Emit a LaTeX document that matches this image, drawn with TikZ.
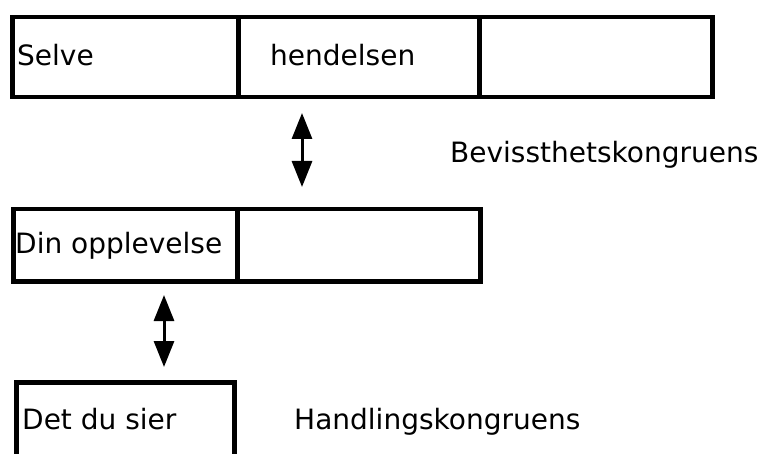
\documentclass[tikz,border=0pt]{standalone}
\usepackage{fontspec}
\setmainfont{DejaVu Sans}
\usetikzlibrary{arrows.meta}
\begin{document}
\begin{tikzpicture}[x=1pt,y=-1pt,
  cell/.style={draw=black,line width=4.5pt,rectangle,inner sep=0pt,anchor=north west},
  lbl/.style={font=\fontsize{28}{31}\selectfont,inner sep=0pt,anchor=base west},
  tip/.tip={Triangle[width=20pt,length=26pt]},
  twoway/.style={line width=3pt,tip-tip}]
\useasboundingbox (0,0) rectangle (762,454);
\clip (0,0) rectangle (762,454);

% top row: the event itself
\node[cell,minimum width=226pt,minimum height=80pt] (s1) at (10,15) {};
\node[cell,minimum width=241pt,minimum height=80pt] (s2) at (236,15) {};
\node[cell,minimum width=233pt,minimum height=80pt] (s3) at (477,15) {};
\node[lbl] (selve) at (17,66) {Selve};
\node[lbl] (hend) at (270,66) {hendelsen};

% middle row: your experience
\node[cell,minimum width=224pt,minimum height=72pt] (o1) at (11,207) {};
\node[cell,minimum width=243pt,minimum height=72pt] (o2) at (235,207) {};
\node[lbl] (din) at (15,253) {Din opplevelse};

% bottom box: what you say (runs off the lower edge)
\node[cell,minimum width=218pt,minimum height=110pt] (d1) at (14,380) {};
\node[lbl] (det) at (22,429) {Det du sier};

% side labels
\node[lbl] (bev) at (450,163) {Bevissthetskongruens};
\node[lbl] (hand) at (294,429) {Handlingskongruens};

% two-way arrows
\coordinate (a1top) at (302,113);
\coordinate (a1bot) at (302,187);
\coordinate (a2top) at (164,295);
\coordinate (a2bot) at (164,367);
\draw[twoway] (a1top) -- (a1bot);
\draw[twoway] (a2top) -- (a2bot);
\end{tikzpicture}
\end{document}
